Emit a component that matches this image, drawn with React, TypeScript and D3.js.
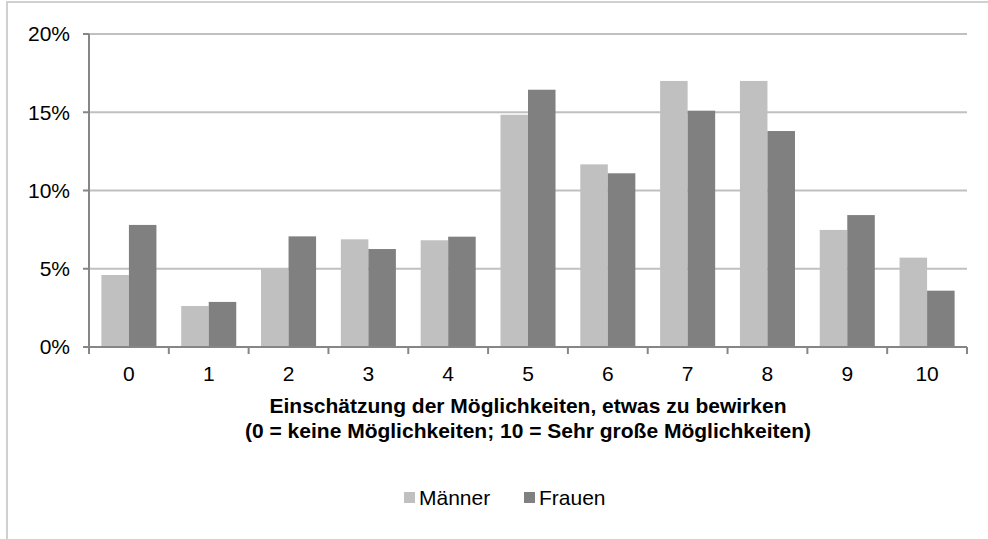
import React from "react";
import * as d3 from "d3";

// Einschätzung 0..10
const categories = ["0", "1", "2", "3", "4", "5", "6", "7", "8", "9", "10"];
const seriesNames = ["Männer", "Frauen"];
const maenner = [4.6, 2.62, 5.0, 6.88, 6.82, 14.84, 11.67, 17.0, 17.0, 7.48, 5.71];
const frauen = [7.8, 2.88, 7.07, 6.26, 7.05, 16.44, 11.1, 15.1, 13.8, 8.43, 3.6];
const yTicks = [0, 5, 10, 15, 20];
const colors = ["#c0c0c0", "#808080"];
const titleLines = [
  "Einschätzung der Möglichkeiten, etwas zu bewirken",
  "(0 = keine Möglichkeiten; 10 = Sehr große Möglichkeiten)",
];

const W = 988;
const H = 539;
const font = "'Liberation Sans', Arial, sans-serif";

export default function App() {
  const x = d3.scaleBand<string>().domain(categories).range([89, 967]).padding(0);
  // two bars per category, ~0.9 bar width gap between groups
  const x1 = d3
    .scaleBand<string>()
    .domain(seriesNames)
    .range([0, x.bandwidth()])
    .paddingInner(0)
    .paddingOuter(0.45);
  const y = d3.scaleLinear().domain([0, 20]).range([347, 34]);

  const values = [maenner, frauen];
  const axisColor = "#868686";
  const gridColor = "#c0c0c0";
  const [x0, xEnd] = x.range();
  const boundaries = [...categories.map((c) => x(c)!), xEnd];

  return (
    <svg
      width={W}
      height={H}
      style={{ position: "absolute", left: 0, top: 0, background: "#fff" }}
      fontFamily={font}
    >
      {/* outer frame, partly cut by the picture edge */}
      <rect x={7} y={2} width={1000} height={600} fill="none" stroke="#d0d0d0" strokeWidth={2} />

      {/* gridlines */}
      {yTicks
        .filter((t) => t > 0)
        .map((t) => (
          <line key={t} x1={x0} x2={xEnd} y1={y(t)} y2={y(t)} stroke={gridColor} strokeWidth={2} />
        ))}

      {/* bars */}
      {seriesNames.map((s, si) =>
        categories.map((c, i) => (
          <rect
            key={s + c}
            x={x(c)! + x1(s)!}
            y={y(values[si][i])}
            width={x1.bandwidth()}
            height={y(0) - y(values[si][i])}
            fill={colors[si]}
          />
        ))
      )}

      {/* y axis */}
      <line x1={x0} x2={x0} y1={y(20)} y2={y(0)} stroke={axisColor} strokeWidth={2} />
      {yTicks.map((t) => (
        <g key={t}>
          <line x1={x0 - 6} x2={x0} y1={y(t)} y2={y(t)} stroke={axisColor} strokeWidth={2} />
          <text x={70} y={y(t)} dy="0.35em" textAnchor="end" fontSize={21} fill="#000">
            {t + "%"}
          </text>
        </g>
      ))}

      {/* x axis */}
      <line x1={x0} x2={xEnd} y1={y(0)} y2={y(0)} stroke={axisColor} strokeWidth={2} />
      {boundaries.map((b, i) => (
        <line key={i} x1={b} x2={b} y1={y(0)} y2={y(0) + 7} stroke={axisColor} strokeWidth={2} />
      ))}
      {categories.map((c) => (
        <text key={c} x={x(c)! + x.bandwidth() / 2} y={381} textAnchor="middle" fontSize={21} fill="#000">
          {c}
        </text>
      ))}

      {/* axis title */}
      {titleLines.map((l, i) => (
        <text key={i} x={(x0 + xEnd) / 2} y={413 + i * 25} textAnchor="middle" fontSize={21} fontWeight="bold" fill="#000">
          {l}
        </text>
      ))}

      {/* legend */}
      {seriesNames.map((s, si) => {
        const lx = si === 0 ? 404 : 524;
        return (
          <g key={s}>
            <rect x={lx} y={492} width={11} height={11} fill={colors[si]} />
            <text x={lx + 15} y={505} fontSize={21} fill="#000">
              {s}
            </text>
          </g>
        );
      })}
    </svg>
  );
}
